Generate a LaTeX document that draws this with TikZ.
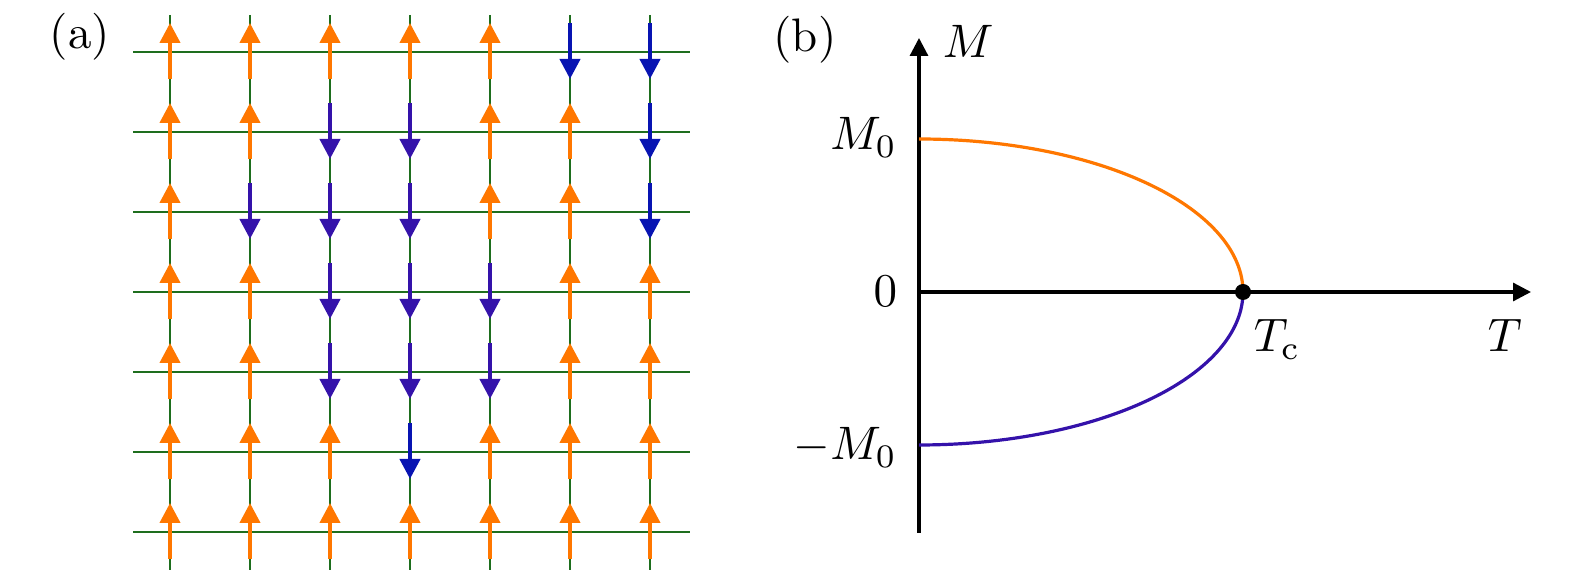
\documentclass[tikz,border=0pt]{standalone}
\usetikzlibrary{arrows.meta}
\definecolor{orng}{RGB}{255,119,0}
\definecolor{purp}{RGB}{52,18,170}
\definecolor{blu}{RGB}{8,20,178}
\definecolor{grn}{RGB}{30,110,30}
\tikzset{
  lat/.style={draw=grn, line width=0.75pt},
  spin/.style={line width=2pt, -{Triangle[length=10pt,width=10pt]}},
  spinU/.style={spin, draw=orng, fill=orng},
  spinP/.style={spin, draw=purp, fill=purp},
  spinB/.style={spin, draw=blu, fill=blu},
  axis/.style={line width=1.6pt, -{Triangle[length=9pt,width=9pt]}},
  lbl/.style={inner sep=0pt, scale=2.35},
  curve/.style={line width=1.6pt}
}
\begin{document}
\begin{tikzpicture}[x=0.5pt,y=-0.5pt]
\useasboundingbox (0,0) rectangle (1575,581);
% ---------- panel (a) ----------
\node[lbl, anchor=base] (la) at (80,49) {(a)};
\foreach \r in {1,...,7}{
  \draw[lat] (133,{-28+80*\r}) -- (690,{-28+80*\r});
  \draw[lat] ({90+80*\r},15) -- ({90+80*\r},570);
}
\foreach \row [count=\r] in {{U,U,U,U,U,B,B},{U,U,P,P,U,U,B},{U,P,P,P,U,U,B},{U,U,P,P,P,U,U},{U,U,P,P,P,U,U},{U,U,U,B,U,U,U},{U,U,U,U,U,U,U}}{
  \foreach \s [count=\c] in \row {
    \if\s U
      \draw[spinU] ({90+80*\c},{-28+80*\r+27}) -- ({90+80*\c},{-28+80*\r-29});
    \else
      \draw[spin\s] ({90+80*\c},{-28+80*\r-29}) -- ({90+80*\c},{-28+80*\r+27});
    \fi
  }
}
% ---------- panel (b) ----------
\node[lbl, anchor=base] (lb) at (805,52) {(b)};
\coordinate (O) at (919,292);
\coordinate (Mtop) at (919,38);
\coordinate (Mbot) at (919,533);
\coordinate (Tend) at (1531,292);
\coordinate (Tc) at (1243,292);
\draw[line width=1.6pt] (Mbot) -- (O);
\draw[axis] (O) -- (Mtop);
\draw[axis] (O) -- (Tend);
\draw[curve, orng] plot[domain=0:90, samples=80, smooth] ({919+324*cos(\x)},{292-153*sin(\x)});
\draw[curve, purp] plot[domain=0:90, samples=80, smooth] ({919+324*cos(\x)},{292+153*sin(\x)});
\fill (Tc) circle[radius=4pt];
\node[lbl, anchor=base west] (lM) at (942,58) {$M$};
\node[lbl, anchor=base east] (lM0) at (898,150) {$M_0$};
\node[lbl, anchor=base east] (l0) at (898,307) {$0$};
\node[lbl, anchor=base east] (lmM0) at (898,460) {$-M_0$};
\node[lbl, anchor=base west] (lTc) at (1253,352) {$T_{\mathrm{c}}$};
\node[lbl, anchor=base west] (lT) at (1487,352) {$T$};
\end{tikzpicture}
\end{document}
